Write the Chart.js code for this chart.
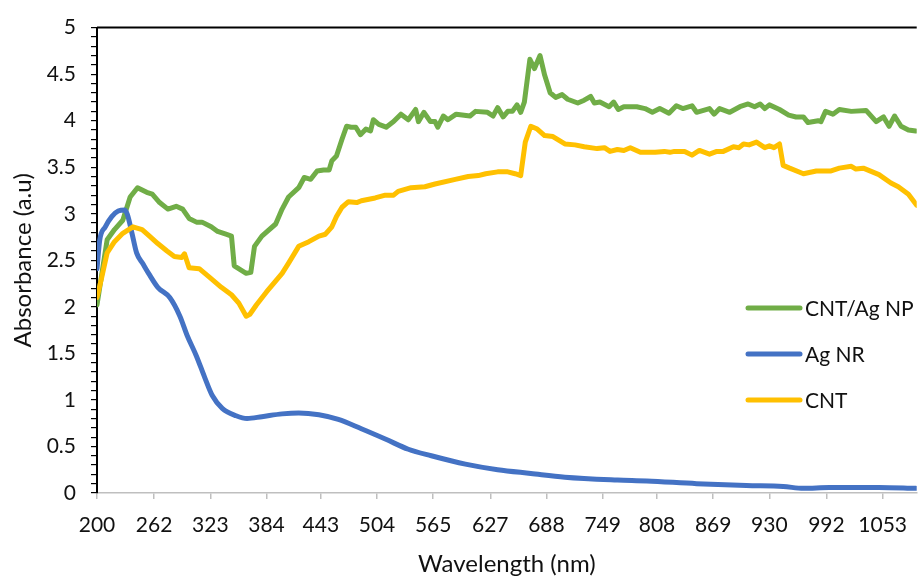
<!DOCTYPE html>
<html>
<head>
<meta charset="utf-8">
<script src="https://cdn.jsdelivr.net/npm/chart.js@4.4.1/dist/chart.umd.min.js"></script>
<style>
  body { margin: 0; background: #fff; }
  #wrap { width: 921px; height: 579px; }
</style>
</head>
<body>
<div id="wrap"><canvas id="uvChart" width="921" height="579"></canvas></div>
<script>
// wavelength tick labels shown on the x axis
const xTicks = [200, 262, 323, 384, 443, 504, 565, 627, 688, 749, 808, 869, 930, 992, 1053];

// CNT/Ag NP
const compWl = [200, 211, 219, 228, 236, 244, 254, 260, 268, 277, 286, 293, 300, 308, 314, 324, 331, 340, 346,
  349, 362, 367, 371, 379, 394, 401, 408, 419, 425, 432, 439, 446, 452, 455, 460, 466, 471, 476, 481, 486,
  492, 497, 500, 506, 514, 522, 530, 538, 546, 549, 555, 562, 567, 570, 576, 581, 590, 605, 611, 624, 630,
  635, 641, 646, 651, 656, 660, 664, 670, 675, 681, 686, 692, 698, 705, 711, 722, 729, 736, 740, 746, 756,
  761, 766, 772, 786, 795, 803, 811, 821, 829, 836, 846, 851, 865, 870, 876, 887, 898, 907, 914, 920, 925,
  930, 941, 951, 959, 967, 972, 983, 986, 991, 999, 1006, 1019, 1035, 1046, 1054, 1060, 1066, 1073, 1081, 1089];
const compAbs = [2.02, 2.72, 2.83, 2.93, 3.18, 3.28, 3.23, 3.21, 3.12, 3.05, 3.08, 3.05, 2.95, 2.91, 2.91, 2.86, 2.81, 2.78, 2.76,
  2.44, 2.36, 2.37, 2.65, 2.76, 2.89, 3.05, 3.18, 3.28, 3.39, 3.37, 3.46, 3.47, 3.47, 3.57, 3.62, 3.80, 3.94, 3.93, 3.93, 3.85,
  3.91, 3.89, 4.01, 3.96, 3.93, 3.99, 4.07, 4.01, 4.12, 3.99, 4.09, 3.99, 3.99, 3.93, 4.05, 4.01, 4.07, 4.05, 4.10, 4.09, 4.05,
  4.14, 4.04, 4.10, 4.10, 4.17, 4.09, 4.20, 4.66, 4.56, 4.70, 4.49, 4.30, 4.25, 4.28, 4.23, 4.19, 4.22, 4.26, 4.19, 4.20, 4.15,
  4.20, 4.12, 4.15, 4.15, 4.13, 4.09, 4.13, 4.08, 4.16, 4.13, 4.16, 4.09, 4.13, 4.07, 4.13, 4.09, 4.15, 4.18, 4.15, 4.18, 4.13,
  4.17, 4.12, 4.06, 4.04, 4.04, 3.98, 4.00, 3.99, 4.10, 4.07, 4.12, 4.10, 4.11, 3.99, 4.04, 3.94, 4.05, 3.94, 3.90, 3.89];

// Ag NR
const agWl = [200, 203, 209, 216, 223, 230, 233, 238, 243, 250, 256, 266, 279, 290, 298, 308, 317, 325, 336, 351,
  363, 379, 401, 419, 441, 462, 487, 513, 538, 563, 600, 635, 671, 708, 765, 797, 851, 905, 945, 967, 995, 1049, 1089];
const agAbs = [2.41, 2.72, 2.86, 2.97, 3.03, 3.04, 2.99, 2.79, 2.58, 2.46, 2.36, 2.21, 2.10, 1.90, 1.69, 1.47, 1.24, 1.05, 0.91, 0.83,
  0.80, 0.82, 0.85, 0.86, 0.84, 0.79, 0.69, 0.58, 0.47, 0.40, 0.31, 0.25, 0.21, 0.17, 0.14, 0.13, 0.10, 0.08, 0.07, 0.05, 0.06, 0.06, 0.05];

// CNT
const cntWl = [200, 205, 211, 219, 228, 239, 249, 257, 266, 276, 284, 292, 295, 300, 311, 322, 335, 346, 354, 362,
  366, 373, 384, 401, 408, 419, 430, 441, 448, 455, 460, 466, 473, 482, 487, 502, 513, 522, 527, 541, 556, 567,
  589, 603, 614, 622, 635, 646, 654, 660, 665, 671, 678, 686, 695, 708, 719, 729, 743, 751, 757, 765, 772, 779,
  790, 806, 816, 822, 827, 838, 846, 854, 865, 873, 880, 891, 897, 902, 908, 916, 925, 930, 935, 941, 945, 952,
  967, 981, 997, 1006, 1019, 1024, 1032, 1049, 1062, 1070, 1081, 1090];
const cntAbs = [2.10, 2.31, 2.58, 2.70, 2.79, 2.86, 2.83, 2.76, 2.68, 2.60, 2.54, 2.53, 2.57, 2.42, 2.41, 2.32, 2.21, 2.13, 2.04, 1.90,
  1.92, 2.02, 2.16, 2.36, 2.47, 2.65, 2.70, 2.76, 2.78, 2.86, 2.97, 3.07, 3.13, 3.12, 3.14, 3.17, 3.20, 3.20, 3.24, 3.28, 3.29, 3.32,
  3.37, 3.40, 3.41, 3.43, 3.45, 3.45, 3.43, 3.41, 3.77, 3.94, 3.91, 3.84, 3.83, 3.75, 3.74, 3.72, 3.70, 3.71, 3.67, 3.69, 3.68, 3.71,
  3.66, 3.66, 3.67, 3.66, 3.67, 3.67, 3.63, 3.68, 3.64, 3.67, 3.67, 3.72, 3.71, 3.75, 3.74, 3.77, 3.71, 3.73, 3.71, 3.75, 3.52, 3.49,
  3.43, 3.46, 3.46, 3.49, 3.51, 3.48, 3.49, 3.42, 3.33, 3.29, 3.21, 3.09];

const pts = (xs, ys) => xs.map((x, i) => ({ x: x, y: ys[i] }));

const FONT = 'Lato, "Open Sans", sans-serif';

// legend drawn inside the plot, like the Excel one
const sideLegend = {
    id: 'sideLegend',
    afterDraw(chart) {
        const ctx = chart.ctx;
        chart.data.datasets.forEach((ds, i) => {
            const y = 308 + i * 46;
            ctx.save();
            ctx.strokeStyle = ds.borderColor;
            ctx.lineWidth = 5;
            ctx.lineCap = 'round';
            ctx.beginPath();
            ctx.moveTo(748, y);
            ctx.lineTo(800, y);
            ctx.stroke();
            ctx.fillStyle = '#111';
            ctx.font = '21px ' + FONT;
            ctx.textBaseline = 'middle';
            ctx.fillText(ds.label, 805, y + 1);
            ctx.restore();
        });
    }
};

// black line along the top of the plot area
const topBorder = {
    id: 'topBorder',
    afterDraw(chart) {
        const a = chart.chartArea;
        const ctx = chart.ctx;
        ctx.save();
        ctx.strokeStyle = '#000';
        ctx.lineWidth = 2;
        ctx.beginPath();
        ctx.moveTo(a.left, a.top);
        ctx.lineTo(a.right, a.top);
        ctx.stroke();
        ctx.restore();
    }
};

let ctx = document.getElementById('uvChart').getContext('2d');
let chart = new Chart(ctx, {
    type: 'line',
    data: {
        datasets: [{
            label: 'CNT/Ag NP',
            data: pts(compWl, compAbs),
            borderColor: '#70AD47',
            borderWidth: 5,
            tension: 0,
            order: 3,
        }, {
            label: 'Ag NR',
            data: pts(agWl, agAbs),
            borderColor: '#4472C4',
            borderWidth: 5,
            cubicInterpolationMode: 'monotone',
            order: 2,
        }, {
            label: 'CNT',
            data: pts(cntWl, cntAbs),
            borderColor: '#FFC000',
            borderWidth: 5,
            tension: 0,
            order: 1,
        }]
    },
    options: {
        responsive: false,
        animation: false,
        events: [],
        layout: { padding: { top: 16, right: 0, left: 0, bottom: 0 } },
        elements: {
            point: { radius: 0 },
            line: { borderJoinStyle: 'round', borderCapStyle: 'round' }
        },
        plugins: {
            legend: { display: false },
            tooltip: { enabled: false },
        },
        scales: {
            x: {
                type: 'linear',
                min: 200,
                max: 1090,
                afterBuildTicks: (scale) => { scale.ticks = xTicks.map(v => ({ value: v })); },
                afterFit: (scale) => { scale.height = 86; },
                ticks: {
                    autoSkip: false,
                    maxRotation: 0,
                    padding: 14,
                    color: '#111',
                    font: { family: FONT, size: 21 },
                    callback: (v) => String(v),
                },
                grid: {
                    drawOnChartArea: false,
                    drawTicks: true,
                    tickLength: 6,
                    color: '#BFBFBF',
                    lineWidth: 1.5,
                },
                border: { color: '#BFBFBF', width: 1.5 },
                title: {
                    display: true,
                    text: 'Wavelength (nm)',
                    color: '#111',
                    font: { family: FONT, size: 24, lineHeight: 1 },
                    padding: { top: 0, bottom: 3 },
                },
            },
            y: {
                min: 0,
                max: 5,
                afterFit: (scale) => { scale.width = 97; },
                ticks: {
                    stepSize: 0.1,
                    autoSkip: false,
                    padding: 15,
                    color: '#111',
                    font: { family: FONT, size: 21 },
                    callback: (v) => {
                        const h = Math.round(v * 2);
                        return Math.abs(v * 2 - h) < 1e-6 ? String(h / 2) : '';
                    },
                },
                grid: {
                    drawOnChartArea: false,
                    drawTicks: true,
                    tickLength: 6,
                    color: '#000',
                    lineWidth: 1.2,
                },
                border: { color: '#000', width: 2 },
                title: {
                    display: true,
                    text: 'Absorbance (a.u)',
                    color: '#111',
                    font: { family: FONT, size: 24, lineHeight: 1 },
                    padding: { top: 11, bottom: 0 },
                },
            },
        },
    },
    plugins: [sideLegend, topBorder],
});
</script>
</body>
</html>
